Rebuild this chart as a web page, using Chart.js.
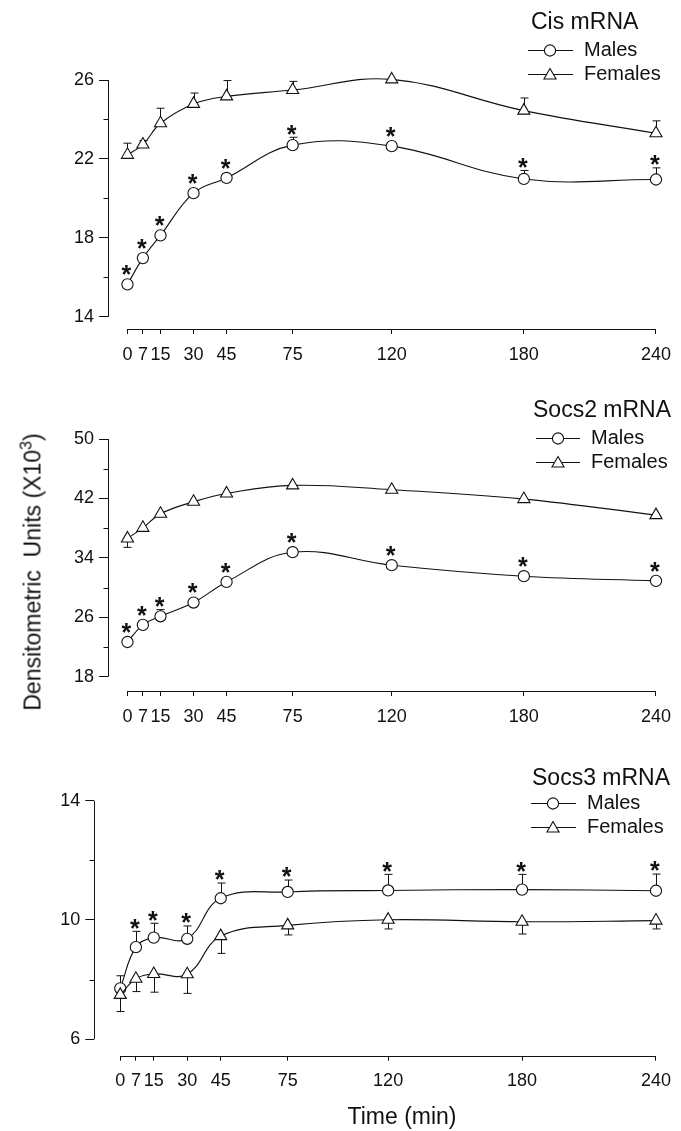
<!DOCTYPE html>
<html>
<head>
<meta charset="utf-8">
<script src="https://cdn.jsdelivr.net/npm/chart.js@4.4.0/dist/chart.umd.min.js"></script>
<style>
html,body{margin:0;padding:0;background:#fff;}
body{width:681px;height:1131px;position:relative;overflow:hidden;font-family:"Liberation Sans",Arial,Helvetica,sans-serif;color:#111;}
canvas{position:absolute;left:0;top:0;}
.ytitle{position:absolute;left:33px;top:572px;transform:translate(-50%,-50%) rotate(-90deg);font-size:23px;line-height:1;white-space:nowrap;}
.ytitle sup{font-size:16px;position:relative;top:-3px;vertical-align:top;line-height:1;}
.xtitle{position:absolute;left:402px;top:1116px;transform:translate(-50%,-50%);font-size:23px;line-height:1;white-space:nowrap;}
</style>
</head>
<body>
<canvas id="c1" width="681" height="1131"></canvas>
<canvas id="c2" width="681" height="1131"></canvas>
<canvas id="c3" width="681" height="1131"></canvas>
<div class="ytitle">Densitometric&nbsp;&nbsp;Units (X10<sup>3</sup>)</div>
<div class="xtitle">Time (min)</div>
<script>
// ---------- DATA ----------
const times = [0, 7, 15, 30, 45, 75, 120, 180, 240];
const timeTickLabels = ['0', '7', '15', '30', '45', '75', '120', '180', '240'];

// Cis mRNA
const cisMales        = [15.65, 16.98, 18.13, 20.27, 21.04, 22.70, 22.65, 20.99, 20.96];
const cisMalesErrUp   = [0, 0, 0, 0, 0, 0.40, 0, 0.43, 0.59];
const cisMalesErrDown = [0, 0, 0, 0, 0, 0, 0, 0, 0];
const cisFemales        = [22.21, 22.73, 23.81, 24.79, 25.17, 25.49, 26.03, 24.45, 23.30];
const cisFemalesErrUp   = [0.59, 0.20, 0.76, 0.55, 0.80, 0.44, 0, 0.64, 0.63];
const cisFemalesErrDown = [0, 0, 0, 0, 0, 0, 0, 0, 0];
const cisStars = [true, true, true, true, true, true, true, true, true];
const cisYTicks  = [14, 16, 18, 20, 22, 24, 26];
const cisYLabels = [14, 18, 22, 26];

// Socs2 mRNA
const socs2Males        = [22.67, 24.97, 26.13, 27.98, 30.76, 34.76, 33.01, 31.53, 30.90];
const socs2MalesErrUp   = [0, 0, 0.90, 0.45, 0, 0, 0, 0, 0];
const socs2MalesErrDown = [0, 0, 0, 0, 0, 0, 0, 0, 0];
const socs2Females        = [36.61, 38.04, 39.93, 41.55, 42.67, 43.75, 43.17, 41.91, 39.75];
const socs2FemalesErrUp   = [0, 0, 0, 0, 0, 0, 0, 0, 0];
const socs2FemalesErrDown = [1.20, 0, 0, 0, 0, 0, 0, 0, 0.30];
const socs2Stars = [true, true, true, true, true, true, true, true, true];
const socs2YTicks  = [18, 22, 26, 30, 34, 38, 42, 46, 50];
const socs2YLabels = [18, 26, 34, 42, 50];

// Socs3 mRNA
const socs3Males        = [7.71, 9.09, 9.41, 9.37, 10.73, 10.94, 10.99, 11.02, 10.98];
const socs3MalesErrUp   = [0.42, 0.53, 0.48, 0.43, 0.51, 0.40, 0.54, 0.51, 0.56];
const socs3MalesErrDown = [0, 0, 0, 0, 0, 0, 0, 0, 0];
const socs3Females        = [7.49, 8.03, 8.19, 8.18, 9.46, 9.82, 10.01, 9.94, 9.98];
const socs3FemalesErrUp   = [0, 0, 0, 0, 0, 0, 0, 0, 0];
const socs3FemalesErrDown = [0.56, 0.43, 0.61, 0.64, 0.58, 0.32, 0.31, 0.41, 0.28];
const socs3Stars = [false, true, true, true, true, true, true, true, true];
const socs3YTicks  = [6, 8, 10, 12, 14];
const socs3YLabels = [6, 10, 14];

const seriesNames = ['Males', 'Females'];

// ---------- LAYOUT ----------
const FONT = '"Liberation Sans", Arial, Helvetica, sans-serif';
const INK = '#111';
const PAGE_W = 681, PAGE_H = 1131;

const panels = [
  { id: 'c1', title: 'Cis mRNA',
    males: cisMales, mUp: cisMalesErrUp, mDown: cisMalesErrDown,
    females: cisFemales, fUp: cisFemalesErrUp, fDown: cisFemalesErrDown,
    stars: cisStars, yTicks: cisYTicks, yLabels: cisYLabels,
    yMin: 13.39, yMax: 26, xMin: -8.84, xMax: 240,
    areaTop: 80, areaLeft: 108, areaRight: 662.7, axisY: 329,
    legend: { titleX: 531, titleY: 23, rows: [50, 74], line: [528, 573], mark: 550, textX: 584 } },
  { id: 'c2', title: 'Socs2 mRNA',
    males: socs2Males, mUp: socs2MalesErrUp, mDown: socs2MalesErrDown,
    females: socs2Females, fUp: socs2FemalesErrUp, fDown: socs2FemalesErrDown,
    stars: socs2Stars, yTicks: socs2YTicks, yLabels: socs2YLabels,
    yMin: 16.07, yMax: 50, xMin: -8.84, xMax: 240,
    areaTop: 439, areaLeft: 108, areaRight: 663, axisY: 691,
    legend: { titleX: 533, titleY: 411, rows: [438, 462], line: [536, 580], mark: 558, textX: 591 } },
  { id: 'c3', title: 'Socs3 mRNA',
    males: socs3Males, mUp: socs3MalesErrUp, mDown: socs3MalesErrDown,
    females: socs3Females, fUp: socs3FemalesErrUp, fDown: socs3FemalesErrDown,
    stars: socs3Stars, yTicks: socs3YTicks, yLabels: socs3YLabels,
    yMin: 5.45, yMax: 14, xMin: -11.63, xMax: 240,
    areaTop: 800.7, areaLeft: 94.3, areaRight: 657, axisY: 1055.7,
    legend: { titleX: 532, titleY: 779, rows: [803, 827], line: [531, 576], mark: 553, textX: 587 } }
];

const CIRCLE_R = 5.6;
const TRI_R = 7;
const X_AXIS_H = 40;

function drawMarker(ctx, style, x, y) {
  ctx.save();
  ctx.fillStyle = '#fff';
  ctx.strokeStyle = INK;
  ctx.lineWidth = 1.1;
  ctx.beginPath();
  if (style === 'circle') {
    ctx.arc(x, y, CIRCLE_R, 0, Math.PI * 2);
  } else {
    const r = TRI_R;
    ctx.moveTo(x, y - r);
    ctx.lineTo(x + r * Math.sin(2 * Math.PI / 3), y - r * Math.cos(2 * Math.PI / 3));
    ctx.lineTo(x + r * Math.sin(4 * Math.PI / 3), y - r * Math.cos(4 * Math.PI / 3));
    ctx.closePath();
  }
  ctx.fill();
  ctx.stroke();
  ctx.restore();
}

const decorPlugin = {
  id: 'decor',
  beforeDatasetsDraw(chart, args, opts) {
    const p = opts.panel;
    const ctx = chart.ctx;
    const xs = chart.scales.x, ys = chart.scales.y;
    ctx.save();
    ctx.strokeStyle = INK;
    ctx.lineWidth = 1;
    // axis lines
    ctx.beginPath();
    const ax = Math.round(chart.chartArea.left) + 0.5;
    ctx.moveTo(ax, ys.getPixelForValue(p.yTicks[0]));
    ctx.lineTo(ax, ys.getPixelForValue(p.yTicks[p.yTicks.length - 1]));
    const ay = Math.round(chart.chartArea.bottom) + 0.5;
    ctx.moveTo(xs.getPixelForValue(times[0]), ay);
    ctx.lineTo(xs.getPixelForValue(times[times.length - 1]), ay);
    ctx.stroke();
    // minor y ticks
    ctx.beginPath();
    p.yTicks.forEach(v => {
      if (p.yLabels.indexOf(v) < 0) {
        const y = Math.round(ys.getPixelForValue(v)) + 0.5;
        ctx.moveTo(ax - 5, y);
        ctx.lineTo(ax, y);
      }
    });
    ctx.stroke();
    // error bars
    const drawErr = (vals, up, down) => {
      vals.forEach((v, i) => {
        const x = Math.round(xs.getPixelForValue(times[i])) + 0.5;
        const y0 = ys.getPixelForValue(v);
        [[up[i], 1], [down[i], -1]].forEach(([e, s]) => {
          if (e > 0) {
            const y1 = ys.getPixelForValue(v + s * e);
            ctx.beginPath();
            ctx.moveTo(x, y0);
            ctx.lineTo(x, y1);
            ctx.moveTo(x - 4, y1);
            ctx.lineTo(x + 4, y1);
            ctx.stroke();
          }
        });
      });
    };
    drawErr(p.males, p.mUp, p.mDown);
    drawErr(p.females, p.fUp, p.fDown);
    ctx.restore();
  },
  afterDatasetsDraw(chart, args, opts) {
    const p = opts.panel;
    const ctx = chart.ctx;
    const xs = chart.scales.x, ys = chart.scales.y;
    ctx.save();
    ctx.fillStyle = INK;
    const fs = 25;
    ctx.font = 'bold ' + fs + 'px ' + FONT;
    ctx.textAlign = 'center';
    ctx.textBaseline = 'alphabetic';
    p.males.forEach((v, i) => {
      if (!p.stars[i]) return;
      const x = xs.getPixelForValue(times[i]) - 1;
      const top = Math.min(ys.getPixelForValue(v) - CIRCLE_R - 1, ys.getPixelForValue(v + p.mUp[i]));
      const cy = top - 9;
      ctx.fillText('*', x, cy + fs * 0.57);
    });
    ctx.restore();
  },
  afterDraw(chart, args, opts) {
    const p = opts.panel, L = p.legend;
    const ctx = chart.ctx;
    ctx.save();
    ctx.fillStyle = INK;
    ctx.textAlign = 'left';
    ctx.textBaseline = 'middle';
    ctx.font = '23px ' + FONT;
    ctx.fillText(p.title, L.titleX, L.titleY);
    ctx.font = '20px ' + FONT;
    ['circle', 'triangle'].forEach((st, k) => {
      const y = L.rows[k] + 0.5;
      ctx.strokeStyle = INK;
      ctx.lineWidth = 1;
      ctx.beginPath();
      ctx.moveTo(L.line[0], y);
      ctx.lineTo(L.line[1], y);
      ctx.stroke();
      drawMarker(ctx, st, L.mark, y + (st === 'triangle' ? 1 : 0));
      ctx.fillStyle = INK;
      ctx.fillText(seriesNames[k], L.textX, L.rows[k]);
    });
    ctx.restore();
  }
};

panels.forEach(p => {
  const xy = arr => arr.map((v, i) => ({ x: times[i], y: v }));
  new Chart(document.getElementById(p.id), {
    type: 'line',
    data: {
      datasets: [
        { label: 'Females', data: xy(p.females), pointStyle: 'triangle', pointRadius: TRI_R,
          borderColor: INK, borderWidth: 1.1, pointBackgroundColor: '#fff', pointBorderColor: INK,
          pointBorderWidth: 1.1, tension: 0.4, fill: false, clip: false },
        { label: 'Males', data: xy(p.males), pointStyle: 'circle', pointRadius: CIRCLE_R,
          borderColor: INK, borderWidth: 1.1, pointBackgroundColor: '#fff', pointBorderColor: INK,
          pointBorderWidth: 1.1, tension: 0.4, fill: false, clip: false }
      ]
    },
    options: {
      responsive: false,
      animation: false,
      events: [],
      devicePixelRatio: 1,
      layout: { padding: { top: p.areaTop, left: 0, right: PAGE_W - p.areaRight, bottom: PAGE_H - p.axisY - X_AXIS_H } },
      plugins: { legend: { display: false }, tooltip: { enabled: false }, decor: { panel: p } },
      scales: {
        x: {
          type: 'linear', min: p.xMin, max: p.xMax,
          afterBuildTicks: s => { s.ticks = times.map(v => ({ value: v })); },
          afterFit: s => { s.height = X_AXIS_H; },
          border: { display: false },
          grid: { display: true, drawOnChartArea: false, drawTicks: true, tickLength: 5, tickColor: INK, tickWidth: 1 },
          ticks: { autoSkip: false, maxRotation: 0, minRotation: 0, padding: 10, color: INK,
            font: { family: FONT, size: 18 },
            callback: v => { const i = times.indexOf(v); return i >= 0 ? timeTickLabels[i] : ''; } }
        },
        y: {
          type: 'linear', min: p.yMin, max: p.yMax,
          afterBuildTicks: s => { s.ticks = p.yTicks.map(v => ({ value: v })); },
          afterFit: s => { s.width = p.areaLeft; },
          border: { display: false },
          grid: { display: true, drawOnChartArea: false, drawTicks: true, tickLength: 9, tickWidth: 1,
            tickColor: c => (c.tick && p.yLabels.indexOf(c.tick.value) >= 0) ? INK : 'rgba(0,0,0,0)' },
          ticks: { autoSkip: false, padding: 5, color: INK, font: { family: FONT, size: 18 },
            callback: v => (p.yLabels.indexOf(v) >= 0 ? String(v) : '') }
        }
      }
    },
    plugins: [decorPlugin]
  });
});
</script>
</body>
</html>
